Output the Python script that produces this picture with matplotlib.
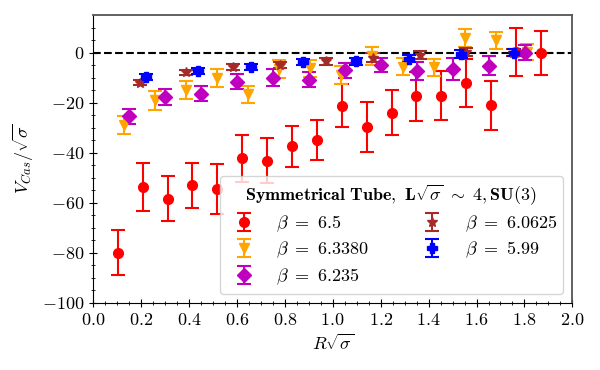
import matplotlib
matplotlib.use('Agg')
import matplotlib.pyplot as plt
import numpy as np

plt.rcParams['font.family'] = 'serif'
plt.rcParams['font.serif'] = ['cmr10']
plt.rcParams['mathtext.fontset'] = 'cm'
plt.rcParams['axes.formatter.use_mathtext'] = True
plt.rcParams['font.size'] = 13

# beta = 6.5
x_65 = [0.104, 0.208, 0.311, 0.415, 0.519, 0.623, 0.727, 0.830, 0.934,
        1.038, 1.142, 1.246, 1.349, 1.453, 1.557, 1.661, 1.765, 1.868]
y_65 = [-80.0, -53.7, -58.5, -53.0, -54.6, -42.3, -43.3, -37.5, -35.0,
        -21.3, -29.7, -24.0, -17.5, -17.2, -12.1, -21.0, 0.4, 0.0]
e_65 = [8.9, 9.6, 9.0, 9.0, 9.9, 9.3, 9.0, 8.3, 8.0,
        8.6, 10.1, 9.1, 9.8, 9.9, 9.7, 9.8, 9.6, 8.8]

# beta = 6.3380
x_634 = [0.129, 0.258, 0.388, 0.517, 0.646, 0.775, 0.904, 1.034, 1.163,
         1.292, 1.421, 1.550, 1.680, 1.809]
y_634 = [-29.0, -19.1, -15.1, -10.2, -16.6, -6.4, -6.3, -9.1, -1.5,
         -5.6, -5.8, 5.9, 5.0, 0.1]
e_634 = [3.6, 3.8, 3.6, 3.5, 3.4, 3.6, 3.5, 3.6, 3.6,
         3.5, 3.4, 3.7, 3.4, 3.2]

# beta = 6.235
x_6235 = [0.150, 0.301, 0.451, 0.601, 0.751, 0.902, 1.052, 1.202,
          1.352, 1.503, 1.653, 1.803]
y_6235 = [-25.4, -17.8, -16.4, -11.7, -10.1, -10.8, -7.0, -5.0,
          -7.3, -6.5, -5.3, 0.0]
e_6235 = [3.0, 3.2, 2.9, 3.0, 3.4, 3.1, 3.0, 2.8,
          3.7, 4.4, 3.8, 3.0]

# beta = 6.0625
x_60625 = [0.195, 0.390, 0.584, 0.779, 0.974, 1.169, 1.364, 1.558, 1.753]
y_60625 = [-12.0, -7.9, -5.8, -4.8, -3.5, -2.0, -0.9, 0.2, 0.0]
e_60625 = [1.0, 1.0, 1.1, 1.2, 1.3, 1.8, 1.5, 1.5, 1.5]

# beta = 5.99
x_599 = [0.220, 0.439, 0.659, 0.878, 1.098, 1.318, 1.537, 1.757]
y_599 = [-9.6, -7.4, -5.8, -3.8, -3.5, -2.5, -0.5, 0.0]
e_599 = [1.2, 1.2, 1.2, 1.3, 1.3, 1.4, 1.5, 1.5]

fig, ax = plt.subplots(figsize=(6, 3.7), dpi=100)
fig.subplots_adjust(left=0.155, right=0.954, top=0.959, bottom=0.182)

ax.axhline(0, color='k', linestyle='--', linewidth=1.5, zorder=1)

kw = dict(linestyle='none', capsize=5, elinewidth=1.5, capthick=1.5, markersize=7)
ax.errorbar(x_65, y_65, yerr=e_65, fmt='o', color='red', label=r'$\beta\ =\ 6.5$', **kw)
ax.errorbar(x_634, y_634, yerr=e_634, fmt='v', color='orange', label=r'$\beta\ =\ 6.3380$', **kw)
ax.errorbar(x_6235, y_6235, yerr=e_6235, fmt='D', color='m', label=r'$\beta\ =\ 6.235$', **kw)
ax.errorbar(x_60625, y_60625, yerr=e_60625, fmt='*', color='brown', label=r'$\beta\ =\ 6.0625$', **kw)
ax.errorbar(x_599, y_599, yerr=e_599, fmt='P', color='blue', label=r'$\beta\ =\ 5.99$', **kw)

ax.set_xlim(0, 2.0)
ax.set_ylim(-100, 15)
ax.set_xticks(np.arange(0, 2.01, 0.2))
ax.set_yticks(np.arange(-100, 1, 20))
ax.set_xticks(np.arange(0, 2.01, 0.05), minor=True)
ax.set_yticks(np.arange(-100, 15, 5), minor=True)
ax.tick_params(which='both', direction='inout', top=False, right=False)
ax.tick_params(which='major', length=6)
ax.tick_params(which='minor', length=3)
for s in ['top', 'right']:
    ax.spines[s].set_color('#555555')
    ax.spines[s].set_linewidth(1.3)

ax.set_xlabel(r'$R\sqrt{\sigma}$')
ax.set_ylabel(r'$V_{Cas}/\sqrt{\sigma}$')

ax.legend(loc='lower right', ncol=2, columnspacing=2.5, labelspacing=0.35,
          borderpad=0.35,
          title=r'$\mathbf{Symmetrical\ Tube,\ L\sqrt{\sigma}\ \sim\ 4, SU(3)}$',
          title_fontsize=13)

plt.savefig('out.png', dpi=100)
